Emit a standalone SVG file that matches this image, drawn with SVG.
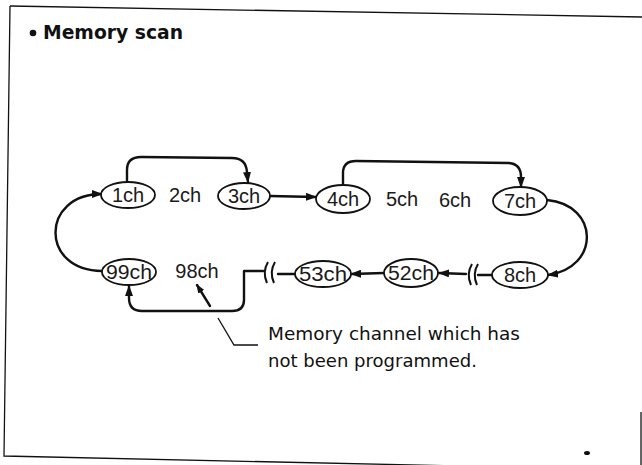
<svg xmlns="http://www.w3.org/2000/svg" width="642" height="465" viewBox="0 0 642 465">
<style>
.node ellipse{fill:#fff;stroke:#111;stroke-width:1.8}
.lbl{font-family:"Liberation Sans",Arial,sans-serif;font-size:20px;fill:#1a1a1a;text-anchor:middle}
.conn{fill:none;stroke:#111;stroke-width:2.4;stroke-linecap:round;stroke-linejoin:round}
.brk{fill:none;stroke:#111;stroke-width:2}
.thin{fill:none;stroke:#111;stroke-width:1.3}
.note{font-family:"DejaVu Sans","Liberation Sans",sans-serif;font-size:17px;fill:#111}
.title{font-family:"DejaVu Sans","Liberation Sans",sans-serif;font-size:20px;font-weight:bold;fill:#111}
</style>
<defs>
<marker id="ah" markerUnits="userSpaceOnUse" markerWidth="11" markerHeight="8" refX="10" refY="4" orient="auto">
<path d="M0,0 L11,4 L0,8 z" fill="#111"/>
</marker>
<marker id="ahs" markerUnits="userSpaceOnUse" markerWidth="9" markerHeight="7" refX="8" refY="3.5" orient="auto">
<path d="M0,0 L9,3.5 L0,7 z" fill="#111"/>
</marker>
</defs>
<rect width="642" height="465" fill="#fff"/>
<g id="frame" class="thin">
<path d="M10,6 L642,17"/>
<path d="M10,6 L4,456 L642,470"/>
<path d="M641,412 L641,465"/>
<ellipse cx="587" cy="453" rx="3" ry="2" fill="#111" stroke="none"/>
</g>
<g id="title">
<circle cx="33" cy="33" r="3.3" fill="#111"/>
<text class="title" x="43" y="39" textLength="140" lengthAdjust="spacingAndGlyphs">Memory scan</text>
</g>
<g id="connectors">
<path class="conn" marker-end="url(#ah)" d="M127,182 L127,170 Q127,157 141,157 L232,158 Q246,158 247,172 L248,182"/>
<path class="conn" marker-end="url(#ah)" d="M270,196 L316,197"/>
<path class="conn" marker-end="url(#ah)" d="M343,185 L343,173 Q343,161 356,161 L509,163 Q521,164 521,177 L521,187"/>
<path class="conn" marker-end="url(#ah)" d="M547,200 C600,205 600,268 548,275"/>
<path class="conn" d="M492,275 L478,275"/>
<path class="brk" d="M472,264 Q466,274 471,285 M478,264 Q472,274 477,285"/>
<path class="conn" marker-end="url(#ah)" d="M466,274 L439,273"/>
<path class="conn" marker-end="url(#ah)" d="M384,273 L351,274"/>
<path class="conn" d="M295,274 L278,274"/>
<path class="brk" d="M268,262 Q262,272 267,283 M275,262 Q269,272 274,283"/>
<path class="conn" marker-end="url(#ah)" d="M263,271 L244,271 L244,300 Q244,311 232,311 L142,311 Q129,311 129,298 L129,286"/>
<path class="conn" marker-end="url(#ah)" d="M102,271 C40,271 40,194 102,194"/>
<path class="conn" stroke-width="1.6" marker-end="url(#ahs)" d="M210,306 L197,285"/>
<path class="thin" d="M218,318 L234,345 L258,345"/>
</g>
<g id="n1ch" class="node"><ellipse cx="128" cy="195" rx="27" ry="13"/><text class="lbl" x="128" y="202">1ch</text></g>
<g id="n2ch"><text class="lbl" x="185" y="202">2ch</text></g>
<g id="n3ch" class="node"><ellipse cx="244" cy="196" rx="26" ry="13"/><text class="lbl" x="244" y="203">3ch</text></g>
<g id="n4ch" class="node"><ellipse cx="343" cy="199" rx="27" ry="14"/><text class="lbl" x="343" y="206">4ch</text></g>
<g id="n5ch"><text class="lbl" x="402" y="206">5ch</text></g>
<g id="n6ch"><text class="lbl" x="455" y="207">6ch</text></g>
<g id="n7ch" class="node"><ellipse cx="520" cy="201" rx="27" ry="14"/><text class="lbl" x="520" y="208">7ch</text></g>
<g id="n8ch" class="node"><ellipse cx="520" cy="275" rx="28" ry="13"/><text class="lbl" x="520" y="282">8ch</text></g>
<g id="n52ch" class="node"><ellipse cx="411" cy="273" rx="27" ry="14"/><text class="lbl" x="411" y="280" textLength="46" lengthAdjust="spacingAndGlyphs">52ch</text></g>
<g id="n53ch" class="node"><ellipse cx="323" cy="274" rx="28" ry="13"/><text class="lbl" x="323" y="281" textLength="48" lengthAdjust="spacingAndGlyphs">53ch</text></g>
<g id="n98ch"><text class="lbl" x="197" y="278">98ch</text></g>
<g id="n99ch" class="node"><ellipse cx="129" cy="272" rx="27" ry="13"/><text class="lbl" x="129" y="279" textLength="46" lengthAdjust="spacingAndGlyphs">99ch</text></g>
<g id="note">
<text class="note" x="268" y="340" textLength="252" lengthAdjust="spacingAndGlyphs">Memory channel which has</text>
<text class="note" x="268" y="367" textLength="209" lengthAdjust="spacingAndGlyphs">not been programmed.</text>
</g>
</svg>
